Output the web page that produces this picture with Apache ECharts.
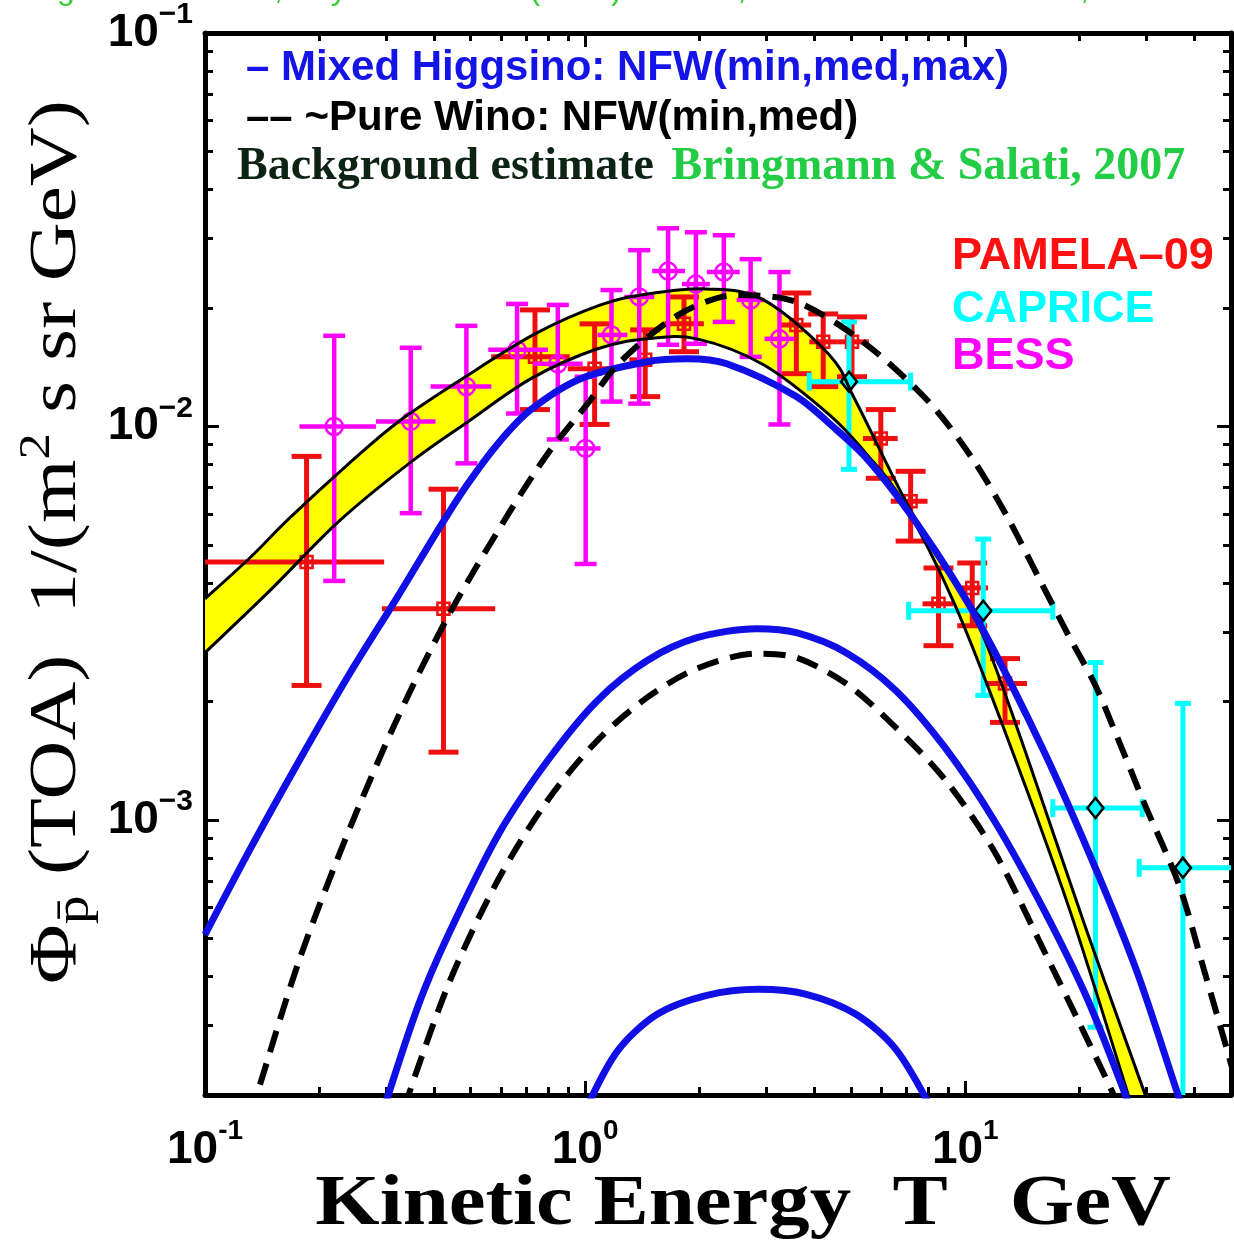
<!DOCTYPE html>
<html><head><meta charset="utf-8">
<script src="https://cdn.jsdelivr.net/npm/echarts@6/dist/echarts.min.js"></script>
<style>html,body{margin:0;padding:0;background:#fff}#c{width:1234px;height:1244px}</style>
</head><body><div id="c"></div>
<script>
// ---------------- data ----------------
const xMinorTicks = [0.2,0.3,0.4,0.5,0.6,0.7,0.8,0.9,2,3,4,5,6,7,8,9,20,30,40];
const yMinorTicks = [3e-4,4e-4,5e-4,6e-4,7e-4,8e-4,9e-4,2e-3,3e-3,4e-3,5e-3,6e-3,7e-3,8e-3,9e-3,2e-2,3e-2,4e-2,5e-2,6e-2,7e-2,8e-2,9e-2];

// background band (Bringmann & Salati 2007)
const bandUpperX = [0.1,0.1311,0.1668,0.2394,0.3234,0.4842,0.7379,1.098,1.457,2.091,2.946,4.384,5.157,6.969,8.867,11.08,14.35,20.59,29.55,31.0];
const bandUpperY = [3.648e-3,4.632e-3,5.849e-3,8.059e-3,1.030e-2,1.338e-2,1.719e-2,2.037e-2,2.171e-2,2.236e-2,2.097e-2,1.522e-2,1.157e-2,6.458e-3,4.369e-3,2.973e-3,1.503e-3,5.422e-4,2.037e-4,1.740e-4];
const bandLowerX = [0.1,0.1479,0.2253,0.3499,0.4929,0.7203,1.078,1.457,1.968,2.946,4.384,5.478,6.845,9.417,13.12,18.81,26.68,28.00];
const bandLowerY = [2.662e-3,3.822e-3,5.747e-3,8.154e-3,1.030e-2,1.323e-2,1.576e-2,1.670e-2,1.670e-2,1.435e-2,1.072e-2,8.543e-3,6.458e-3,3.502e-3,1.549e-3,5.918e-4,2.037e-4,1.740e-4];

// Mixed Higgsino NFW (max, med, min)
const higgsMaxX = [0.1,0.1311,0.1772,0.2394,0.3234,0.4116,0.4842,0.5903,0.7203,0.9732,1.457,1.854,2.358,3.594,4.573,5.380,6.561,8.349,10.81,16.19,22.27,28.33,36.06,38.06];
const higgsMaxY = [5.114e-4,8.395e-4,1.418e-3,2.342e-3,3.734e-3,5.486e-3,7.010e-3,9.058e-3,1.104e-2,1.323e-2,1.461e-2,1.486e-2,1.443e-2,1.191e-2,9.826e-3,8.492e-3,6.726e-3,4.826e-3,3.208e-3,1.478e-3,7.338e-4,4.099e-4,2.037e-4,1.740e-4];
const higgsMedX = [0.2955,0.3649,0.4369,0.5903,0.7980,1.078,1.457,1.968,2.825,3.594,4.857,6.561,8.867,11.98,16.19,20.97,26.20,27.50];
const higgsMedY = [1.844e-4,3.401e-4,5.114e-4,9.162e-4,1.418e-3,2.013e-3,2.542e-3,2.905e-3,3.062e-3,2.991e-3,2.662e-3,2.134e-3,1.522e-3,9.883e-4,5.849e-4,3.502e-4,2.037e-4,1.791e-4];
const higgsMinX = [1.0,1.216,1.547,2.091,2.859,3.817,5.157,6.561,8.199];
const higgsMinY = [1.823e-4,2.586e-4,3.208e-4,3.584e-4,3.711e-4,3.606e-4,3.208e-4,2.616e-4,1.823e-4];

// ~Pure Wino NFW (med, min)
const winoMedX = [0.1311,0.1376,0.1772,0.2394,0.3234,0.4369,0.6160,0.7980,1.015,1.238,1.776,2.504,3.594,5.380,8.005,10.43,12.95,15.90,18.59,21.87,25.12,29.55,36.49,42.42,49.0,53.95];
const winoMedY = [1.760e-4,2.037e-4,4.421e-4,9.434e-4,1.844e-3,3.304e-3,5.815e-3,8.543e-3,1.143e-2,1.461e-2,1.932e-2,2.159e-2,2.073e-2,1.641e-2,1.157e-2,8.298e-3,5.849e-3,3.981e-3,2.973e-3,2.222e-3,1.622e-3,1.104e-3,6.844e-4,4.172e-4,2.571e-4,1.844e-4];
const winoMinX = [0.3334,0.4369,0.5903,0.7980,1.078,1.457,1.968,2.825,3.594,4.857,6.561,8.867,11.98,16.19,19.74,24.37,25.57];
const winoMinY = [1.844e-4,3.822e-4,7.047e-4,1.124e-3,1.594e-3,2.049e-3,2.425e-3,2.647e-3,2.586e-3,2.222e-3,1.719e-3,1.263e-3,8.252e-4,4.605e-4,3.116e-4,2.037e-4,1.823e-4];

// data points: [T, flux, T_lo, T_hi, flux_lo, flux_hi]
const pamela = [
  [0.185,4.525e-3,0.1,0.296,2.197e-3,8.395e-3],
  [0.424,3.441e-3,0.292,0.580,1.487e-3,6.928e-3],
  [0.738,1.503e-2,0.566,0.911,1.104e-2,1.978e-2],
  [1.059,1.402e-2,0.900,1.194,1.012e-2,1.823e-2],
  [1.439,1.477e-2,1.307,1.575,1.191e-2,1.760e-2],
  [1.820,1.823e-2,1.614,2.053,1.549e-2,2.134e-2],
  [3.594,1.812e-2,3.245,3.933,1.362e-2,2.184e-2],
  [4.229,1.641e-2,3.886,4.600,1.263e-2,1.932e-2],
  [5.035,1.641e-2,4.600,5.577,1.338e-2,1.899e-2],
  [5.995,9.324e-3,5.380,6.640,7.385e-3,1.104e-2],
  [7.182,6.458e-3,6.367,7.955,5.114e-3,7.692e-3],
  [8.502,3.543e-3,7.720,9.303,2.773e-3,4.369e-3],
  [10.43,3.889e-3,9.587,11.48,3.116e-3,4.499e-3],
  [12.72,2.222e-3,11.28,14.53,1.770e-3,2.571e-3]
];
const caprice = [
  [4.944,1.300e-2,3.886,7.182,7.781e-3,1.844e-2],
  [11.15,3.401e-3,7.096,16.99,2.073e-3,5.174e-3],
  [22.00,1.072e-3,16.99,29.20,2.973e-4,2.512e-3],
  [37.37,7.556e-4,28.67,52.0,1.5e-4,1.978e-3]
];
const bess = [
  [0.2187,1.000e-2,0.1772,0.2816,4.051e-3,1.700e-2],
  [0.3477,1.030e-2,0.2816,0.4041,6.021e-3,1.585e-2],
  [0.4871,1.263e-2,0.3922,0.5662,8.059e-3,1.802e-2],
  [0.6622,1.566e-2,0.5562,0.7980,1.079e-2,2.049e-2],
  [0.8474,1.443e-2,0.7290,0.9852,9.270e-3,2.037e-2],
  [1.003,8.794e-3,0.911,1.098,4.473e-3,1.338e-2],
  [1.173,1.709e-2,1.078,1.292,1.157e-2,2.222e-2],
  [1.388,2.134e-2,1.268,1.519,1.143e-2,2.806e-2],
  [1.653,2.483e-2,1.501,1.831,1.613e-2,3.189e-2],
  [1.956,2.301e-2,1.798,2.129,1.622e-2,3.116e-2],
  [2.316,2.469e-2,2.091,2.550,1.844e-2,3.062e-2],
  [2.725,2.097e-2,2.504,2.964,1.503e-2,2.662e-2],
  [3.245,1.670e-2,2.964,3.551,1.012e-2,2.469e-2]
];

// ---------------- chart ----------------
const BLUE = '#1010e6', RED = '#ee1010', CYAN = '#00ffff', MAG = '#ff00ff';
const SANS = '"Liberation Sans", Arial, sans-serif';
const SERIF = '"Liberation Serif", "Times New Roman", serif';
const XMIN = 0.1, XMAX = 50, YMIN = 2e-4, YMAX = 0.1;

function pairs(xs, ys) { return xs.map((x, i) => [x, ys[i]]); }
function decadeLabel(minus) {
  return function (v) {
    const l = Math.log10(v), e = Math.round(l);
    if (Math.abs(l - e) > 1e-6) return '';
    return '{b|10}{s|' + (e < 0 ? minus + (-e) : String(e)) + '}';
  };
}
const yLabelRich = {
  b: {fontFamily: SANS, fontWeight: 'bold', fontSize: 46, lineHeight: 66, color: '#000'},
  s: {fontFamily: SANS, fontWeight: 'bold', fontSize: 30, lineHeight: 30, verticalAlign: 'top', color: '#000'}
};
const xLabelRich = {
  b: {fontFamily: SANS, fontWeight: 'bold', fontSize: 46, lineHeight: 66, color: '#000'},
  s: {fontFamily: SANS, fontWeight: 'bold', fontSize: 28, lineHeight: 28, verticalAlign: 'top', color: '#000'}
};

function axisBase(extra) {
  return Object.assign({
    type: 'log', logBase: 10, gridIndex: 0,
    splitLine: {show: false}, minorTick: {show: false},
    axisLine: {show: true, onZero: false, lineStyle: {color: '#000', width: 5}},
    axisTick: {show: true, inside: true, length: 14, lineStyle: {color: '#000', width: 3}},
    axisLabel: {show: false}
  }, extra);
}
function minorAxis(pos, vals, isX) {
  return axisBase({
    position: pos, min: isX ? XMIN : YMIN, max: isX ? XMAX : YMAX,
    axisLine: {show: false},
    axisTick: {show: true, inside: true, length: 8, customValues: vals, lineStyle: {color: '#000', width: 3}}
  });
}

// Catmull-Rom spline through pixel points -> SVG path commands
function crPath(pts, start) {
  let d = start + pts[0][0].toFixed(2) + ' ' + pts[0][1].toFixed(2);
  for (let i = 0; i < pts.length - 1; i++) {
    const p0 = pts[i - 1] || pts[i], p1 = pts[i], p2 = pts[i + 1], p3 = pts[i + 2] || pts[i + 1];
    const c1x = p1[0] + (p2[0] - p0[0]) / 6, c1y = p1[1] + (p2[1] - p0[1]) / 6;
    const c2x = p2[0] - (p3[0] - p1[0]) / 6, c2y = p2[1] - (p3[1] - p1[1]) / 6;
    d += ' C' + c1x.toFixed(2) + ' ' + c1y.toFixed(2) + ' ' + c2x.toFixed(2) + ' ' + c2y.toFixed(2) + ' ' + p2[0].toFixed(2) + ' ' + p2[1].toFixed(2);
  }
  return d;
}
function bandPixels(api) {
  return {
    up: bandUpperX.map((x, i) => api.coord([x, bandUpperY[i]])),
    lo: bandLowerX.map((x, i) => api.coord([x, bandLowerY[i]]))
  };
}

function errorSeries(name, rows, color, opt) {
  return {
    type: 'custom', name: name, clip: true, xAxisIndex: 0, yAxisIndex: 0, z: 3,
    data: rows, encode: {x: 0, y: 1},
    renderItem: function (params, api) {
      const c = api.coord([api.value(0), api.value(1)]);
      const l = api.coord([api.value(2), api.value(1)]);
      const r = api.coord([api.value(3), api.value(1)]);
      const b = api.coord([api.value(0), api.value(4)]);
      const t = api.coord([api.value(0), api.value(5)]);
      const st = {stroke: color, lineWidth: opt.lw, fill: null};
      const cw = opt.cap / 2;
      const ch = [
        {type: 'line', shape: {x1: l[0], y1: l[1], x2: r[0], y2: r[1]}, style: st},
        {type: 'line', shape: {x1: b[0], y1: b[1], x2: t[0], y2: t[1]}, style: st},
        {type: 'line', shape: {x1: t[0] - cw, y1: t[1], x2: t[0] + cw, y2: t[1]}, style: st},
        {type: 'line', shape: {x1: b[0] - cw, y1: b[1], x2: b[0] + cw, y2: b[1]}, style: st}
      ];
      if (opt.hcap) {
        const hh = opt.hcap / 2;
        ch.push({type: 'line', shape: {x1: l[0], y1: l[1] - hh, x2: l[0], y2: l[1] + hh}, style: st});
        ch.push({type: 'line', shape: {x1: r[0], y1: r[1] - hh, x2: r[0], y2: r[1] + hh}, style: st});
      }
      if (opt.marker === 'rect') {
        ch.push({type: 'rect', shape: {x: c[0] - 6, y: c[1] - 6, width: 12, height: 12}, style: {stroke: color, lineWidth: 2.5, fill: null}});
      } else if (opt.marker === 'circle') {
        ch.push({type: 'circle', shape: {cx: c[0], cy: c[1], r: 8.5}, style: {stroke: color, lineWidth: 2.5, fill: null}});
      } else if (opt.marker === 'diamond') {
        ch.push({type: 'polygon', shape: {points: [[c[0], c[1] - 10], [c[0] + 8, c[1]], [c[0], c[1] + 10], [c[0] - 8, c[1]]]},
          style: {fill: CYAN, stroke: '#000', lineWidth: 2.5}});
      }
      return {type: 'group', children: ch};
    }
  };
}

function txt(x, y, text, font, fill, extra) {
  return Object.assign({type: 'text', x: x, y: y, z: 10, style: {text: text, font: font, fill: fill,
    align: 'left', verticalAlign: 'middle', textAlign: 'left', textVerticalAlign: 'middle'}}, extra || {});
}

const option = {
  animation: false,
  backgroundColor: '#fff',
  grid: {left: 205, top: 30, width: 1032, height: 1065, containLabel: false},
  xAxis: [
    axisBase({position: 'bottom', min: XMIN, max: XMAX,
      axisLabel: {show: true, margin: 22, formatter: decadeLabel('-'), rich: xLabelRich, showMinLabel: true, showMaxLabel: true}}),
    axisBase({position: 'top', min: XMIN, max: XMAX}),
    minorAxis('bottom', xMinorTicks, true),
    minorAxis('top', xMinorTicks, true)
  ],
  yAxis: [
    axisBase({position: 'left', min: YMIN, max: YMAX,
      axisLabel: {show: true, margin: 12, formatter: decadeLabel('\u2212'), rich: yLabelRich, showMinLabel: true, showMaxLabel: true}}),
    axisBase({position: 'right', min: YMIN, max: YMAX}),
    minorAxis('left', yMinorTicks, false),
    minorAxis('right', yMinorTicks, false)
  ],
  series: [
    {
      type: 'custom', name: 'band', clip: true, z: 1, data: [[1, 0.01]], encode: {x: 0, y: 1},
      renderItem: function (params, api) {
        const p = bandPixels(api);
        const d = crPath(p.up, 'M') + ' ' + crPath(p.lo.slice().reverse(), 'L') + ' Z';
        return {type: 'path', shape: {pathData: d}, style: {fill: '#ffff00', stroke: null}};
      }
    },
    errorSeries('PAMELA-09', pamela, RED, {lw: 5, cap: 30, marker: 'rect'}),
    errorSeries('BESS', bess, MAG, {lw: 4.5, cap: 22, marker: 'circle'}),
    errorSeries('CAPRICE', caprice, CYAN, {lw: 5, cap: 16, hcap: 18, marker: 'diamond'}),
    {
      type: 'custom', name: 'band edges', clip: true, z: 4, data: [[1, 0.01]], encode: {x: 0, y: 1},
      renderItem: function (params, api) {
        const p = bandPixels(api);
        return {type: 'group', children: [
          {type: 'path', shape: {pathData: crPath(p.up, 'M')}, style: {stroke: '#000', lineWidth: 3, fill: null}},
          {type: 'path', shape: {pathData: crPath(p.lo, 'M')}, style: {stroke: '#000', lineWidth: 3, fill: null}}
        ]};
      }
    },
    {type: 'line', name: 'Higgsino max', z: 5, data: pairs(higgsMaxX, higgsMaxY), showSymbol: false, smooth: 0.3, lineStyle: {color: BLUE, width: 7}},
    {type: 'line', name: 'Higgsino med', z: 5, data: pairs(higgsMedX, higgsMedY), showSymbol: false, smooth: 0.3, lineStyle: {color: BLUE, width: 7}},
    {type: 'line', name: 'Higgsino min', z: 5, data: pairs(higgsMinX, higgsMinY), showSymbol: false, smooth: 0.3, lineStyle: {color: BLUE, width: 7}},
    {type: 'line', name: 'Wino med', z: 5, data: pairs(winoMedX, winoMedY), showSymbol: false, smooth: 0.3, lineStyle: {color: '#000', width: 6, type: [22, 12]}},
    {type: 'line', name: 'Wino min', z: 5, data: pairs(winoMinX, winoMinY), showSymbol: false, smooth: 0.3, lineStyle: {color: '#000', width: 6, type: [22, 12]}}
  ],
  graphic: [
    {type: 'text', x: 0, y: 6, z: 10, style: {text: 'Bringmann & Salati, Phys. Rev. D 75 (2007) 083006; PAMELA Collaboration, PRL 102 (2009) 051101; CAPRICE Collaboration, ApJ',
      font: '32px ' + SANS, fill: '#33cc33', align: 'left', verticalAlign: 'bottom', textAlign: 'left', textVerticalAlign: 'bottom'}},
    txt(246, 68, '\u2013 Mixed Higgsino: NFW(min,med,max)', 'bold 42px ' + SANS, '#1414e6'),
    txt(246, 118, '\u2013\u2013 ~Pure Wino: NFW(min,med)', 'bold 42px ' + SANS, '#000'),
    {type: 'text', x: 237, y: 167, z: 10, style: {text: '{a|Background estimate }{g|Bringmann & Salati, 2007}',
      rich: {a: {font: 'bold 46px ' + SERIF, fill: '#0d2414', color: '#0d2414'},
             g: {font: 'bold 46px ' + SERIF, fill: '#22cc44', color: '#22cc44', padding: [0, 0, 0, 6]}},
      align: 'left', verticalAlign: 'middle', textAlign: 'left', textVerticalAlign: 'middle'}},
    txt(952, 257, 'PAMELA\u201309', 'bold 45px ' + SANS, '#ff1010'),
    txt(952, 310, 'CAPRICE', 'bold 45px ' + SANS, CYAN),
    txt(952, 357, 'BESS', 'bold 45px ' + SANS, MAG),
    {type: 'text', x: 743, y: 1205, scaleX: 1.15, z: 10, style: {text: 'Kinetic Energy  T   GeV', font: 'bold 72px ' + SERIF, fill: '#000',
      align: 'center', verticalAlign: 'middle', textAlign: 'center', textVerticalAlign: 'middle'}},
    {type: 'text', x: 57, y: 542, rotation: Math.PI / 2, scaleX: 1.2, z: 10, style: {
      text: '{t|\u03A6}{sub|p\u0304}{t| (TOA)  1/(m}{sup|2}{t| s sr GeV)}',
      rich: {
        t: {fontFamily: SERIF, fontSize: 68, lineHeight: 84, color: '#000', fill: '#000'},
        sub: {fontFamily: SERIF, fontSize: 48, lineHeight: 48, verticalAlign: 'bottom', color: '#000', fill: '#000'},
        sup: {fontFamily: SERIF, fontSize: 44, lineHeight: 44, verticalAlign: 'top', color: '#000', fill: '#000'}
      },
      align: 'center', verticalAlign: 'middle', textAlign: 'center', textVerticalAlign: 'middle'}}
  ]
};

const chart = echarts.init(document.getElementById('c'), null, {renderer: 'canvas'});
chart.setOption(option);
</script>
</body></html>
